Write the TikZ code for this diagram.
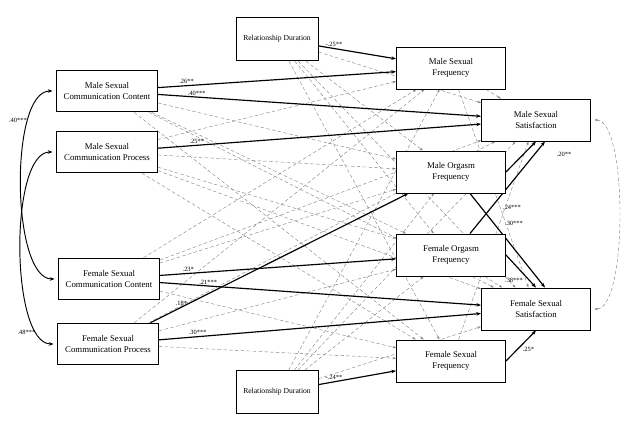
\documentclass[tikz,border=0pt]{standalone}
\usepackage{fontspec}
\setmainfont{Liberation Serif}
\usetikzlibrary{arrows.meta, backgrounds}
\tikzset{
  box/.style={draw, thick, fill=white, align=center, font=\fontsize{7.5}{9}\selectfont, inner sep=1pt},
  pred/.style={box, minimum width=3.03cm, minimum height=1.25cm},
  outc/.style={box, minimum width=3.27cm, minimum height=1.26cm},
  dur/.style={box, minimum width=2.46cm, minimum height=1.3cm, font=\fontsize{6.5}{8}\selectfont},
  sig/.style={-{Stealth[length=4pt,width=3pt]}, line width=1pt},
  ns/.style={-{Stealth[length=3pt,width=2pt]}, densely dashed, gray, line width=0.35pt},
  coef/.style={font=\fontsize{5.5}{6}\selectfont, inner sep=1pt}
}
\begin{document}
\begin{tikzpicture}[x=0.03cm, y=-0.03cm]
        \useasboundingbox (0,0) rectangle (639,429);

        % predictors
        \node[pred] (MC) at (107, 91) {Male Sexual\\Communication Content};
        \node[pred] (MP) at (107, 152) {Male Sexual\\Communication Process};
        \node[pred] (FC) at (109, 279) {Female Sexual\\Communication Content};
        \node[pred] (FP) at (108, 344) {Female Sexual\\Communication Process};
        \node[dur] (RDm) at (277, 39) {Relationship Duration};
        \node[dur] (RDf) at (277, 392) {Relationship Duration};

        % mediators and outcomes
        \node[outc] (MF) at (451, 68) {Male Sexual\\Frequency};
        \node[outc] (MS) at (536, 120) {Male Sexual\\Satisfaction};
        \node[outc] (MO) at (451, 172) {Male Orgasm\\Frequency};
        \node[outc] (FO) at (451, 255) {Female Orgasm\\Frequency};
        \node[outc] (FS) at (536, 309) {Female Sexual\\Satisfaction};
        \node[outc] (FF) at (451, 361) {Female Sexual\\Frequency};

        \begin{scope}[on background layer]
        % non-significant paths
        \foreach \a/\b in {MC/MO, MC/FO, MC/FS, MC/FF,
                           MP/MF, MP/MO, MP/FO, MP/FS, MP/FF,
                           FC/MF, FC/MS, FC/MO, FC/FF,
                           FP/MF, FP/MS, FP/FO, FP/FF,
                           RDm/MS, RDm/MO, RDm/FO, RDm/FS, RDm/FF,
                           RDf/MF, RDf/MS, RDf/MO, RDf/FO, RDf/FS,
                           MF/MS, MF/FS, FF/MS, FO/FS}
            \draw[ns] (\a) -- (\b);

        % significant paths
        \draw[sig] (MC) -- node[coef, pos=0.12, above] {.26**} (MF);
        \draw[sig] (MC) -- node[coef, pos=0.12, above] {.40***} (MS);
        \draw[sig] (MP) -- node[coef, pos=0.12, above] {.25**} (MS);
        \draw[sig] (FC) -- node[coef, pos=0.12, above] {.23*} (FO);
        \draw[sig] (FC) -- node[coef, pos=0.15, above] {.21***} (FS);
        \draw[sig] (FP) -- node[coef, pos=0.12, above] {.18*} (MO);
        \draw[sig] (FP) -- node[coef, pos=0.12, above] {.30***} (FS);
        \draw[sig] (RDm) -- node[coef, pos=0.2, above] {-.25**} (MF);
        \draw[sig] (RDf) -- node[coef, pos=0.2, above] {-.24**} (FF);
        \draw[sig] (MO.east) -- (MS.south);
        \draw[sig] ([xshift=0.57cm]FO.north) -- ([xshift=0.27cm]MS.south);
        \draw[sig] ([xshift=0.57cm]MO.south) -- ([xshift=0.27cm]FS.north);
        \draw[sig] (FO.east) -- (FS.north);
        \draw[sig] (FF.east) -- node[coef, pos=0.5, below right] {.25*} (FS.south);
        \end{scope}

        % coefficient labels of the mediator paths
        \node[coef] (l20) at (564, 154) {.20**};
        \node[coef] (l24) at (512, 207) {.24***};
        \node[coef] (l30) at (514, 223) {.30***};
        \node[coef] (l38) at (514, 280) {.38***};

        % covariances
        \draw[{Stealth[length=4pt]}-{Stealth[length=4pt]}, thick] ([xshift=-3pt]MC.west) to[out=180, in=180, distance=1.3cm] node[coef, pos=0.25, left] {.40***} ([xshift=-3pt]FC.west);
        \draw[{Stealth[length=4pt]}-{Stealth[length=4pt]}, thick] ([xshift=-3pt]MP.west) to[out=180, in=180, distance=1.3cm] node[coef, pos=0.85, left] {.48***} ([xshift=-3pt]FP.west);
        \draw[ns, {Stealth[length=3pt,width=2pt]}-{Stealth[length=3pt,width=2pt]}] ([xshift=3pt]MS.east) to[out=0, in=0, distance=1cm] ([xshift=3pt]FS.east);
    \end{tikzpicture}
\end{document}
